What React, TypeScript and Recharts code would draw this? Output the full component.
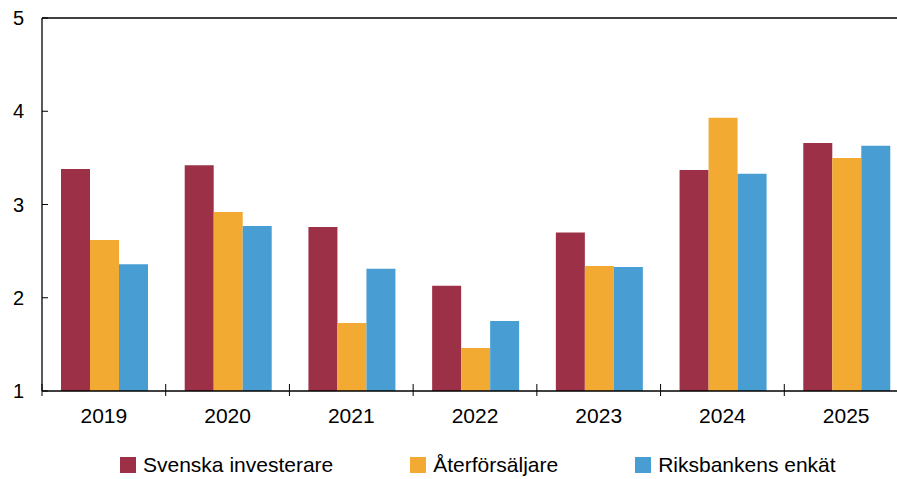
import React from "react";
import { BarChart, Bar, XAxis, YAxis, ReferenceLine, Legend } from "recharts";

const years = ["2019", "2020", "2021", "2022", "2023", "2024", "2025"];
const svenskaInvesterare = [3.38, 3.42, 2.76, 2.13, 2.7, 3.37, 3.66];
const aterforsaljare = [2.62, 2.92, 1.73, 1.46, 2.34, 3.93, 3.5];
const riksbankensEnkat = [2.36, 2.77, 2.31, 1.75, 2.33, 3.33, 3.63];
const yTicks = [1, 2, 3, 4, 5];

const seriesNames = ["Svenska investerare", "Återförsäljare", "Riksbankens enkät"];
const colors = ["#9B3047", "#F2AA33", "#489ED3"];

const data = years.map((year, i) => ({
  year,
  s: svenskaInvesterare[i],
  a: aterforsaljare[i],
  r: riksbankensEnkat[i],
}));

const CHART_W = 920;
const CHART_H = 479;
const Y_AXIS_W = 42;
const MARGIN_RIGHT = 12;
const PLOT_W = CHART_W - Y_AXIS_W - MARGIN_RIGHT;
const BAND = PLOT_W / years.length;
const FONT = "'Liberation Sans', Arial, sans-serif";

const YTick = (props: any) => {
  const { y, payload } = props;
  return (
    <g>
      <line x1={Y_AXIS_W} x2={Y_AXIS_W + 6} y1={y} y2={y} stroke="#000" strokeWidth={1} />
      <text x={24} y={y + 7} textAnchor="end" fontSize={20} fontFamily={FONT} fill="#000">
        {payload.value}
      </text>
    </g>
  );
};

const XTick = (props: any) => {
  const { x, y, payload } = props;
  const left = x - BAND / 2;
  return (
    <g>
      <line x1={left} x2={left} y1={y - 7} y2={y + 5} stroke="#000" strokeWidth={1} />
      <text x={x} y={y + 32} textAnchor="middle" fontSize={21} fontFamily={FONT} fill="#000">
        {payload.value}
      </text>
    </g>
  );
};

const LegendContent = () => (
  <div
    style={{
      height: 40,
      width: 897,
      display: "flex",
      alignItems: "center",
      paddingLeft: 120,
      paddingTop: 12,
      boxSizing: "border-box",
      fontFamily: FONT,
      fontSize: 21,
      color: "#000",
      whiteSpace: "nowrap",
    }}
  >
    {seriesNames.map((name, i) => (
      <div
        key={name}
        style={{ display: "flex", alignItems: "center", marginRight: 77, flexShrink: 0 }}
      >
        <div style={{ width: 16, height: 16, background: colors[i], marginRight: 7, flexShrink: 0 }} />
        <span>{name}</span>
      </div>
    ))}
  </div>
);

export default function App() {
  return (
    <div
      style={{
        position: "absolute",
        left: 0,
        top: 0,
        width: 897,
        height: 479,
        overflow: "hidden",
        background: "#fff",
      }}
    >
      <BarChart
        width={CHART_W}
        height={CHART_H}
        data={data}
        margin={{ top: 18, right: MARGIN_RIGHT, bottom: 0, left: 0 }}
        barCategoryGap={19}
        barGap={0}
      >
        <YAxis
          type="number"
          domain={[1, 5]}
          ticks={yTicks}
          width={Y_AXIS_W}
          axisLine={{ stroke: "#000", strokeWidth: 1.3 }}
          tickLine={false}
          tickSize={0}
          tick={<YTick />}
          allowDataOverflow
        />
        <XAxis
          dataKey="year"
          height={48}
          axisLine={{ stroke: "#000", strokeWidth: 1.3 }}
          tickLine={false}
          tickSize={0}
          tickMargin={0}
          interval={0}
          tick={<XTick />}
        />
        <ReferenceLine y={5} stroke="#000" strokeWidth={1.3} />
        <Legend
          verticalAlign="bottom"
          height={40}
          content={<LegendContent />}
          wrapperStyle={{ left: 0, width: 897 }}
        />
        <Bar dataKey="s" name={seriesNames[0]} fill={colors[0]} isAnimationActive={false} />
        <Bar dataKey="a" name={seriesNames[1]} fill={colors[1]} isAnimationActive={false} />
        <Bar dataKey="r" name={seriesNames[2]} fill={colors[2]} isAnimationActive={false} />
      </BarChart>
    </div>
  );
}
